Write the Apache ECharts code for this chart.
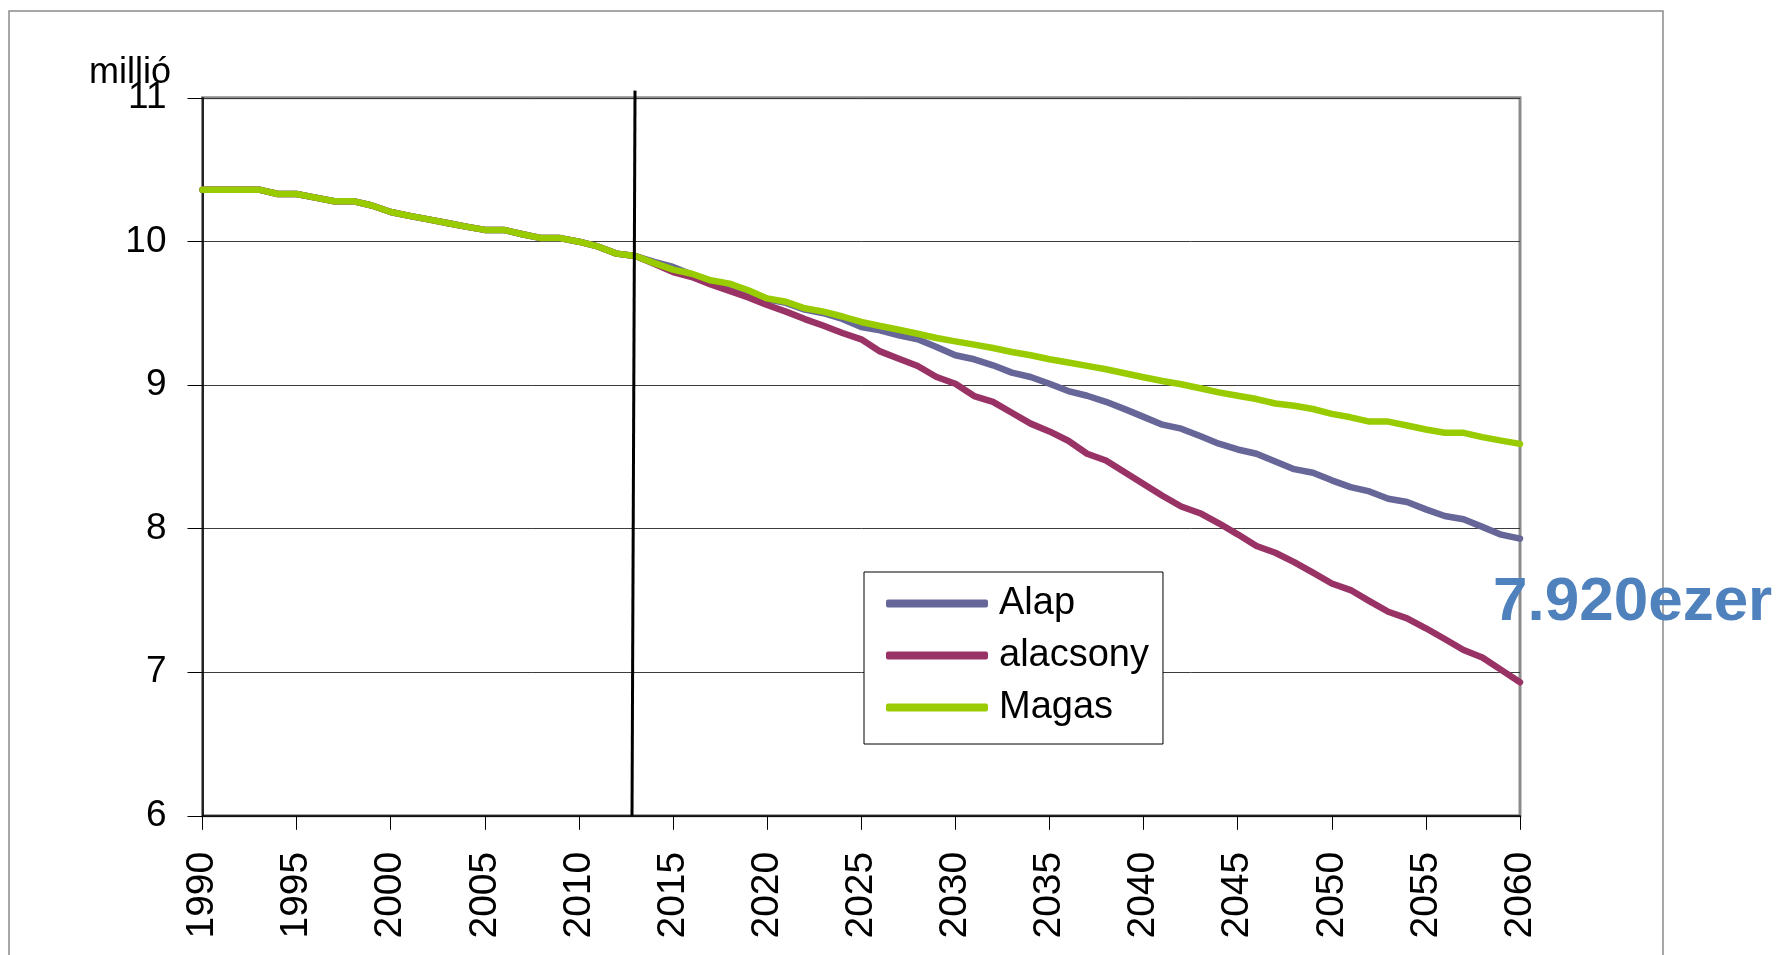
<!DOCTYPE html>
<html>
<head>
<meta charset="utf-8">
<script src="https://cdn.jsdelivr.net/npm/echarts@6/dist/echarts.min.js"></script>
<style>
html,body{margin:0;padding:0;background:#fff;}
#chart{width:1784px;height:955px;}
</style>
</head>
<body>
<div id="chart"></div>
<script>
// ---- data ----
const histYears = [1990,1991,1992,1993,1994,1995,1996,1997,1998,1999,2000,2001,2002,2003,2004,2005,2006,2007,2008,2009,2010,2011,2012,2013];
const histValues = [10.36,10.36,10.36,10.36,10.33,10.33,10.305,10.28,10.28,10.25,10.205,10.178,10.153,10.128,10.103,10.08,10.08,10.05,10.023,10.023,9.998,9.965,9.915,9.898];
const projYears = [2014,2015,2016,2017,2018,2019,2020,2021,2022,2023,2024,2025,2026,2027,2028,2029,2030,2031,2032,2033,2034,2035,2036,2037,2038,2039,2040,2041,2042,2043,2044,2045,2046,2047,2048,2049,2050,2051,2052,2053,2054,2055,2056,2057,2058,2059,2060];
const alap = [9.858,9.822,9.77,9.725,9.70,9.655,9.597,9.572,9.525,9.50,9.46,9.404,9.381,9.346,9.318,9.265,9.207,9.179,9.137,9.086,9.056,9.009,8.958,8.925,8.883,8.832,8.778,8.724,8.696,8.645,8.591,8.551,8.521,8.467,8.414,8.389,8.336,8.289,8.259,8.208,8.185,8.134,8.088,8.065,8.012,7.958,7.93];
const alacsony = [9.845,9.787,9.752,9.70,9.656,9.61,9.557,9.511,9.459,9.413,9.362,9.318,9.234,9.183,9.132,9.056,9.009,8.923,8.882,8.807,8.731,8.677,8.612,8.521,8.474,8.393,8.311,8.229,8.154,8.107,8.037,7.96,7.879,7.832,7.767,7.694,7.618,7.572,7.495,7.421,7.375,7.306,7.231,7.155,7.102,7.016,6.93];
const magas = [9.849,9.803,9.775,9.729,9.706,9.66,9.603,9.58,9.534,9.511,9.477,9.439,9.411,9.385,9.357,9.327,9.304,9.281,9.258,9.23,9.207,9.179,9.157,9.133,9.11,9.082,9.054,9.028,9.005,8.977,8.949,8.925,8.902,8.871,8.855,8.833,8.799,8.775,8.745,8.745,8.718,8.69,8.667,8.667,8.637,8.613,8.59];
const seriesNames = ['Alap','alacsony','Magas'];
const dividerLine = [[2012.98, 11.05],[2012.82, 6]];
const unitLabel = 'millió';
const annotation = '7.920ezer';

function build(proj){
  const out = histYears.map((y,i)=>[y,histValues[i]]);
  projYears.forEach((y,i)=>out.push([y,proj[i]]));
  return out;
}

const FONT = "'Liberation Sans',Arial,sans-serif";
const chart = echarts.init(document.getElementById('chart'), null, {renderer:'canvas'});
const lineCommon = {type:'line', showSymbol:false, symbol:'none', smooth:false, animation:false,
  lineStyle:{width:6.5, cap:'round', join:'round'}};

chart.setOption({
  backgroundColor:'#ffffff',
  animation:false,
  color:['#666699','#993366','#99CC00'],
  grid:{left:202.5, right:264, top:97.8, bottom:139.2, show:true, borderColor:'#8c8c8c', borderWidth:3, backgroundColor:'transparent', outerBoundsMode:'none'},
  xAxis:{type:'value', min:1990, max:2060, interval:5,
    axisLine:{show:true, onZero:false, lineStyle:{color:'#000', width:1.5}},
    axisTick:{show:true, length:14, lineStyle:{color:'#000', width:1}},
    splitLine:{show:false},
    axisLabel:{rotate:90, margin:36, fontSize:39, color:'#000', fontFamily:FONT, formatter:v=>String(v)}
  },
  yAxis:{type:'value', min:6, max:11, interval:1,
    axisLine:{show:true, lineStyle:{color:'#000', width:1.5}},
    axisTick:{show:true, length:15, lineStyle:{color:'#000', width:1}},
    splitLine:{show:true, lineStyle:{color:'#3c3c3c', width:1}},
    axisLabel:{margin:36, fontSize:37, color:'#000', fontFamily:FONT}
  },
  legend:{
    data:seriesNames, orient:'vertical', left:864, top:572,
    padding:[9,14,14,22], itemGap:7, itemWidth:102, itemHeight:8,
    icon:'roundRect', backgroundColor:'#fff', borderColor:'#000', borderWidth:1, borderRadius:0,
    textStyle:{fontSize:38, color:'#000', fontFamily:FONT, lineHeight:45, padding:[0,0,0,6]},
    itemStyle:{borderWidth:0}
  },
  graphic:[
    {type:'rect', silent:true, z:-1, shape:{x:9, y:11, width:1654, height:1000}, style:{fill:'none', stroke:'#8a8a8a', lineWidth:1.5}},
    {type:'text', silent:true, style:{x:89, y:91, text:unitLabel, fontSize:36, fontFamily:FONT, fill:'#000', textVerticalAlign:'bottom'}},
    {type:'text', silent:true, style:{x:1493, y:603, text:annotation, fontSize:62, fontWeight:'bold', fontFamily:FONT, fill:'#4F81BD', textVerticalAlign:'middle'}}
  ],
  series:[
    Object.assign({}, lineCommon, {name:'Alap', data:build(alap), z:3}),
    Object.assign({}, lineCommon, {name:'alacsony', data:build(alacsony), z:4}),
    Object.assign({}, lineCommon, {name:'Magas', data:build(magas), z:5}),
    {type:'line', name:'divider', data:dividerLine, showSymbol:false, symbol:'none', clip:false, animation:false, z:6,
     lineStyle:{color:'#000', width:3}, silent:true, legendHoverLink:false, tooltip:{show:false}}
  ]
});
</script>
</body>
</html>
